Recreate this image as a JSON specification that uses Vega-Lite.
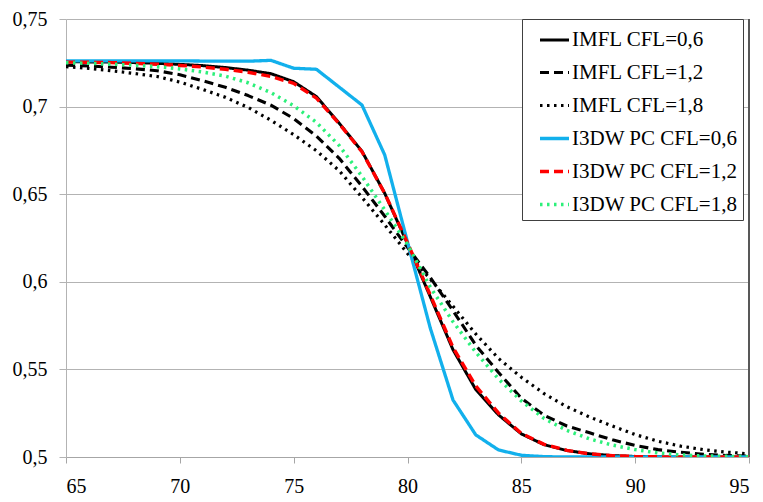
{
  "$schema": "https://vega.github.io/schema/vega-lite/v6.json",
  "width": 683,
  "height": 438,
  "autosize": {"type": "none"},
  "padding": {"left": 66, "top": 19, "right": 14, "bottom": 45},
  "background": "white",
  "config": {
    "locale": {"number": {"decimal": ",", "thousands": ".", "grouping": [3], "currency": ["", " €"]}},
    "font": "Liberation Serif",
    "view": {"stroke": null}
  },
  "data": {
    "values": [
      {"s": "IMFL CFL=0,6", "x": 65, "y": 0.7256}, {"s": "IMFL CFL=0,6", "x": 66, "y": 0.7255}, {"s": "IMFL CFL=0,6", "x": 67, "y": 0.7254}, {"s": "IMFL CFL=0,6", "x": 68, "y": 0.7251}, {"s": "IMFL CFL=0,6", "x": 69, "y": 0.7247}, {"s": "IMFL CFL=0,6", "x": 70, "y": 0.7241}, {"s": "IMFL CFL=0,6", "x": 71, "y": 0.7234}, {"s": "IMFL CFL=0,6", "x": 72, "y": 0.7223}, {"s": "IMFL CFL=0,6", "x": 73, "y": 0.7208}, {"s": "IMFL CFL=0,6", "x": 74, "y": 0.7188}, {"s": "IMFL CFL=0,6", "x": 75, "y": 0.7142}, {"s": "IMFL CFL=0,6", "x": 76, "y": 0.7057}, {"s": "IMFL CFL=0,6", "x": 77, "y": 0.6905}, {"s": "IMFL CFL=0,6", "x": 78, "y": 0.6745}, {"s": "IMFL CFL=0,6", "x": 79, "y": 0.6505}, {"s": "IMFL CFL=0,6", "x": 80, "y": 0.6217}, {"s": "IMFL CFL=0,6", "x": 81, "y": 0.5915}, {"s": "IMFL CFL=0,6", "x": 82, "y": 0.5612}, {"s": "IMFL CFL=0,6", "x": 83, "y": 0.5385}, {"s": "IMFL CFL=0,6", "x": 84, "y": 0.524}, {"s": "IMFL CFL=0,6", "x": 85, "y": 0.5132}, {"s": "IMFL CFL=0,6", "x": 86, "y": 0.507}, {"s": "IMFL CFL=0,6", "x": 87, "y": 0.5037}, {"s": "IMFL CFL=0,6", "x": 88, "y": 0.5018}, {"s": "IMFL CFL=0,6", "x": 89, "y": 0.5008}, {"s": "IMFL CFL=0,6", "x": 90, "y": 0.5003}, {"s": "IMFL CFL=0,6", "x": 91, "y": 0.5001}, {"s": "IMFL CFL=0,6", "x": 92, "y": 0.5}, {"s": "IMFL CFL=0,6", "x": 93, "y": 0.5}, {"s": "IMFL CFL=0,6", "x": 94, "y": 0.5}, {"s": "IMFL CFL=0,6", "x": 95, "y": 0.5},

      {"s": "IMFL CFL=1,2", "x": 65, "y": 0.7237}, {"s": "IMFL CFL=1,2", "x": 66, "y": 0.7232}, {"s": "IMFL CFL=1,2", "x": 67, "y": 0.7225}, {"s": "IMFL CFL=1,2", "x": 68, "y": 0.7216}, {"s": "IMFL CFL=1,2", "x": 69, "y": 0.7205}, {"s": "IMFL CFL=1,2", "x": 70, "y": 0.7182}, {"s": "IMFL CFL=1,2", "x": 71, "y": 0.7148}, {"s": "IMFL CFL=1,2", "x": 72, "y": 0.711}, {"s": "IMFL CFL=1,2", "x": 73, "y": 0.7063}, {"s": "IMFL CFL=1,2", "x": 74, "y": 0.7008}, {"s": "IMFL CFL=1,2", "x": 75, "y": 0.6932}, {"s": "IMFL CFL=1,2", "x": 76, "y": 0.6832}, {"s": "IMFL CFL=1,2", "x": 77, "y": 0.6705}, {"s": "IMFL CFL=1,2", "x": 78, "y": 0.6545}, {"s": "IMFL CFL=1,2", "x": 79, "y": 0.6374}, {"s": "IMFL CFL=1,2", "x": 80, "y": 0.6196}, {"s": "IMFL CFL=1,2", "x": 81, "y": 0.6025}, {"s": "IMFL CFL=1,2", "x": 82, "y": 0.5835}, {"s": "IMFL CFL=1,2", "x": 83, "y": 0.5638}, {"s": "IMFL CFL=1,2", "x": 84, "y": 0.5482}, {"s": "IMFL CFL=1,2", "x": 85, "y": 0.5336}, {"s": "IMFL CFL=1,2", "x": 86, "y": 0.5238}, {"s": "IMFL CFL=1,2", "x": 87, "y": 0.5177}, {"s": "IMFL CFL=1,2", "x": 88, "y": 0.5138}, {"s": "IMFL CFL=1,2", "x": 89, "y": 0.5098}, {"s": "IMFL CFL=1,2", "x": 90, "y": 0.5066}, {"s": "IMFL CFL=1,2", "x": 91, "y": 0.5042}, {"s": "IMFL CFL=1,2", "x": 92, "y": 0.5027}, {"s": "IMFL CFL=1,2", "x": 93, "y": 0.5016}, {"s": "IMFL CFL=1,2", "x": 94, "y": 0.5009}, {"s": "IMFL CFL=1,2", "x": 95, "y": 0.5005},

      {"s": "IMFL CFL=1,8", "x": 65, "y": 0.7228}, {"s": "IMFL CFL=1,8", "x": 66, "y": 0.7218}, {"s": "IMFL CFL=1,8", "x": 67, "y": 0.7205}, {"s": "IMFL CFL=1,8", "x": 68, "y": 0.7189}, {"s": "IMFL CFL=1,8", "x": 69, "y": 0.7172}, {"s": "IMFL CFL=1,8", "x": 70, "y": 0.714}, {"s": "IMFL CFL=1,8", "x": 71, "y": 0.7098}, {"s": "IMFL CFL=1,8", "x": 72, "y": 0.7053}, {"s": "IMFL CFL=1,8", "x": 73, "y": 0.6995}, {"s": "IMFL CFL=1,8", "x": 74, "y": 0.6922}, {"s": "IMFL CFL=1,8", "x": 75, "y": 0.684}, {"s": "IMFL CFL=1,8", "x": 76, "y": 0.6748}, {"s": "IMFL CFL=1,8", "x": 77, "y": 0.6634}, {"s": "IMFL CFL=1,8", "x": 78, "y": 0.6482}, {"s": "IMFL CFL=1,8", "x": 79, "y": 0.6325}, {"s": "IMFL CFL=1,8", "x": 80, "y": 0.6162}, {"s": "IMFL CFL=1,8", "x": 81, "y": 0.6016}, {"s": "IMFL CFL=1,8", "x": 82, "y": 0.586}, {"s": "IMFL CFL=1,8", "x": 83, "y": 0.5702}, {"s": "IMFL CFL=1,8", "x": 84, "y": 0.5562}, {"s": "IMFL CFL=1,8", "x": 85, "y": 0.5455}, {"s": "IMFL CFL=1,8", "x": 86, "y": 0.5362}, {"s": "IMFL CFL=1,8", "x": 87, "y": 0.5287}, {"s": "IMFL CFL=1,8", "x": 88, "y": 0.5228}, {"s": "IMFL CFL=1,8", "x": 89, "y": 0.5177}, {"s": "IMFL CFL=1,8", "x": 90, "y": 0.5128}, {"s": "IMFL CFL=1,8", "x": 91, "y": 0.509}, {"s": "IMFL CFL=1,8", "x": 92, "y": 0.5062}, {"s": "IMFL CFL=1,8", "x": 93, "y": 0.5042}, {"s": "IMFL CFL=1,8", "x": 94, "y": 0.5028}, {"s": "IMFL CFL=1,8", "x": 95, "y": 0.5018},

      {"s": "I3DW PC CFL=0,6", "x": 65, "y": 0.7261}, {"s": "I3DW PC CFL=0,6", "x": 66, "y": 0.7261}, {"s": "I3DW PC CFL=0,6", "x": 67, "y": 0.7261}, {"s": "I3DW PC CFL=0,6", "x": 68, "y": 0.7261}, {"s": "I3DW PC CFL=0,6", "x": 69, "y": 0.7261}, {"s": "I3DW PC CFL=0,6", "x": 70, "y": 0.7261}, {"s": "I3DW PC CFL=0,6", "x": 71, "y": 0.726}, {"s": "I3DW PC CFL=0,6", "x": 72, "y": 0.7259}, {"s": "I3DW PC CFL=0,6", "x": 73, "y": 0.7259}, {"s": "I3DW PC CFL=0,6", "x": 74, "y": 0.7264}, {"s": "I3DW PC CFL=0,6", "x": 75, "y": 0.7219}, {"s": "I3DW PC CFL=0,6", "x": 76, "y": 0.7213}, {"s": "I3DW PC CFL=0,6", "x": 77, "y": 0.7111}, {"s": "I3DW PC CFL=0,6", "x": 78, "y": 0.7009}, {"s": "I3DW PC CFL=0,6", "x": 79, "y": 0.6724}, {"s": "I3DW PC CFL=0,6", "x": 80, "y": 0.6227}, {"s": "I3DW PC CFL=0,6", "x": 81, "y": 0.5736}, {"s": "I3DW PC CFL=0,6", "x": 82, "y": 0.5325}, {"s": "I3DW PC CFL=0,6", "x": 83, "y": 0.5126}, {"s": "I3DW PC CFL=0,6", "x": 84, "y": 0.504}, {"s": "I3DW PC CFL=0,6", "x": 85, "y": 0.501}, {"s": "I3DW PC CFL=0,6", "x": 86, "y": 0.5002}, {"s": "I3DW PC CFL=0,6", "x": 87, "y": 0.5}, {"s": "I3DW PC CFL=0,6", "x": 88, "y": 0.5}, {"s": "I3DW PC CFL=0,6", "x": 89, "y": 0.5}, {"s": "I3DW PC CFL=0,6", "x": 90, "y": 0.5}, {"s": "I3DW PC CFL=0,6", "x": 91, "y": 0.5}, {"s": "I3DW PC CFL=0,6", "x": 92, "y": 0.5}, {"s": "I3DW PC CFL=0,6", "x": 93, "y": 0.5}, {"s": "I3DW PC CFL=0,6", "x": 94, "y": 0.5}, {"s": "I3DW PC CFL=0,6", "x": 95, "y": 0.5},

      {"s": "I3DW PC CFL=1,2", "x": 65, "y": 0.7254}, {"s": "I3DW PC CFL=1,2", "x": 66, "y": 0.7253}, {"s": "I3DW PC CFL=1,2", "x": 67, "y": 0.7251}, {"s": "I3DW PC CFL=1,2", "x": 68, "y": 0.7247}, {"s": "I3DW PC CFL=1,2", "x": 69, "y": 0.7242}, {"s": "I3DW PC CFL=1,2", "x": 70, "y": 0.7235}, {"s": "I3DW PC CFL=1,2", "x": 71, "y": 0.7226}, {"s": "I3DW PC CFL=1,2", "x": 72, "y": 0.7213}, {"s": "I3DW PC CFL=1,2", "x": 73, "y": 0.7196}, {"s": "I3DW PC CFL=1,2", "x": 74, "y": 0.7172}, {"s": "I3DW PC CFL=1,2", "x": 75, "y": 0.7133}, {"s": "I3DW PC CFL=1,2", "x": 76, "y": 0.7048}, {"s": "I3DW PC CFL=1,2", "x": 77, "y": 0.6902}, {"s": "I3DW PC CFL=1,2", "x": 78, "y": 0.6742}, {"s": "I3DW PC CFL=1,2", "x": 79, "y": 0.6505}, {"s": "I3DW PC CFL=1,2", "x": 80, "y": 0.6222}, {"s": "I3DW PC CFL=1,2", "x": 81, "y": 0.5925}, {"s": "I3DW PC CFL=1,2", "x": 82, "y": 0.5625}, {"s": "I3DW PC CFL=1,2", "x": 83, "y": 0.5405}, {"s": "I3DW PC CFL=1,2", "x": 84, "y": 0.525}, {"s": "I3DW PC CFL=1,2", "x": 85, "y": 0.5135}, {"s": "I3DW PC CFL=1,2", "x": 86, "y": 0.5072}, {"s": "I3DW PC CFL=1,2", "x": 87, "y": 0.5038}, {"s": "I3DW PC CFL=1,2", "x": 88, "y": 0.5018}, {"s": "I3DW PC CFL=1,2", "x": 89, "y": 0.5008}, {"s": "I3DW PC CFL=1,2", "x": 90, "y": 0.5003}, {"s": "I3DW PC CFL=1,2", "x": 91, "y": 0.5001}, {"s": "I3DW PC CFL=1,2", "x": 92, "y": 0.5}, {"s": "I3DW PC CFL=1,2", "x": 93, "y": 0.5}, {"s": "I3DW PC CFL=1,2", "x": 94, "y": 0.5}, {"s": "I3DW PC CFL=1,2", "x": 95, "y": 0.5},

      {"s": "I3DW PC CFL=1,8", "x": 65, "y": 0.725}, {"s": "I3DW PC CFL=1,8", "x": 66, "y": 0.7247}, {"s": "I3DW PC CFL=1,8", "x": 67, "y": 0.7242}, {"s": "I3DW PC CFL=1,8", "x": 68, "y": 0.7236}, {"s": "I3DW PC CFL=1,8", "x": 69, "y": 0.7228}, {"s": "I3DW PC CFL=1,8", "x": 70, "y": 0.7215}, {"s": "I3DW PC CFL=1,8", "x": 71, "y": 0.7198}, {"s": "I3DW PC CFL=1,8", "x": 72, "y": 0.7174}, {"s": "I3DW PC CFL=1,8", "x": 73, "y": 0.7136}, {"s": "I3DW PC CFL=1,8", "x": 74, "y": 0.708}, {"s": "I3DW PC CFL=1,8", "x": 75, "y": 0.7005}, {"s": "I3DW PC CFL=1,8", "x": 76, "y": 0.691}, {"s": "I3DW PC CFL=1,8", "x": 77, "y": 0.6778}, {"s": "I3DW PC CFL=1,8", "x": 78, "y": 0.6602}, {"s": "I3DW PC CFL=1,8", "x": 79, "y": 0.641}, {"s": "I3DW PC CFL=1,8", "x": 80, "y": 0.6213}, {"s": "I3DW PC CFL=1,8", "x": 81, "y": 0.597}, {"s": "I3DW PC CFL=1,8", "x": 82, "y": 0.5772}, {"s": "I3DW PC CFL=1,8", "x": 83, "y": 0.5598}, {"s": "I3DW PC CFL=1,8", "x": 84, "y": 0.5445}, {"s": "I3DW PC CFL=1,8", "x": 85, "y": 0.532}, {"s": "I3DW PC CFL=1,8", "x": 86, "y": 0.522}, {"s": "I3DW PC CFL=1,8", "x": 87, "y": 0.5152}, {"s": "I3DW PC CFL=1,8", "x": 88, "y": 0.5103}, {"s": "I3DW PC CFL=1,8", "x": 89, "y": 0.5068}, {"s": "I3DW PC CFL=1,8", "x": 90, "y": 0.5042}, {"s": "I3DW PC CFL=1,8", "x": 91, "y": 0.5023}, {"s": "I3DW PC CFL=1,8", "x": 92, "y": 0.5012}, {"s": "I3DW PC CFL=1,8", "x": 93, "y": 0.5006}, {"s": "I3DW PC CFL=1,8", "x": 94, "y": 0.5004}, {"s": "I3DW PC CFL=1,8", "x": 95, "y": 0.5002}
    ]
  },
  "layer": [
    {
      "mark": {"type": "rule", "color": "#595959", "strokeWidth": 1},
      "encoding": {"x": {"datum": 95, "type": "quantitative"}}
    },
    {
      "mark": {"type": "line", "strokeCap": "butt", "strokeJoin": "round", "clip": true},
      "encoding": {
        "x": {
          "field": "x", "type": "quantitative",
          "scale": {"domain": [65, 95], "nice": false, "zero": false},
          "axis": {
            "values": [65, 70, 75, 80, 85, 90, 95], "format": "d", "title": null,
            "labelFont": "Liberation Serif", "labelFontSize": 20, "labelColor": "#000000",
            "grid": false, "domainColor": "#a6a6a6", "tickColor": "#a6a6a6",
            "tickSize": 6, "labelPadding": 13
          }
        },
        "y": {
          "field": "y", "type": "quantitative",
          "scale": {"domain": [0.5, 0.75], "nice": false, "zero": false},
          "axis": {
            "values": [0.5, 0.55, 0.6, 0.65, 0.7, 0.75], "format": ".2~f", "title": null,
            "labelFont": "Liberation Serif", "labelFontSize": 20, "labelColor": "#000000",
            "grid": true, "gridColor": "#b3b3b3", "gridWidth": 1,
            "domainColor": "#b3b3b3", "tickColor": "#b3b3b3", "tickSize": 7, "labelPadding": 12
          }
        },
        "color": {
          "field": "s", "type": "nominal", "title": null,
          "scale": {
            "domain": ["IMFL CFL=0,6", "IMFL CFL=1,2", "IMFL CFL=1,8", "I3DW PC CFL=0,6", "I3DW PC CFL=1,2", "I3DW PC CFL=1,8"],
            "range": ["#000000", "#000000", "#000000", "#12b0ec", "#ff0000", "#2cf07a"]
          },
          "legend": {
            "orient": "none", "legendX": 456, "legendY": 0,
            "strokeColor": "#404040", "fillColor": "#ffffff", "padding": 5,
            "symbolOffset": 11, "symbolType": "stroke", "symbolSize": 841, "symbolStrokeWidth": 3,
            "labelFont": "Liberation Serif", "labelFontSize": 21, "labelColor": "#000000",
            "labelOffset": 1, "rowPadding": 6, "labelLimit": 300
          }
        },
        "strokeDash": {
          "field": "s", "type": "nominal", "title": null,
          "scale": {
            "domain": ["IMFL CFL=0,6", "IMFL CFL=1,2", "IMFL CFL=1,8", "I3DW PC CFL=0,6", "I3DW PC CFL=1,2", "I3DW PC CFL=1,8"],
            "range": [[1, 0], [9, 5], [2.5, 4.5], [1, 0], [9, 5], [2.5, 4.5]]
          }
        },
        "strokeWidth": {
          "field": "s", "type": "nominal", "title": null,
          "scale": {
            "domain": ["IMFL CFL=0,6", "IMFL CFL=1,2", "IMFL CFL=1,8", "I3DW PC CFL=0,6", "I3DW PC CFL=1,2", "I3DW PC CFL=1,8"],
            "range": [3, 3.5, 3, 3, 4, 3]
          }
        }
      }
    }
  ]
}
